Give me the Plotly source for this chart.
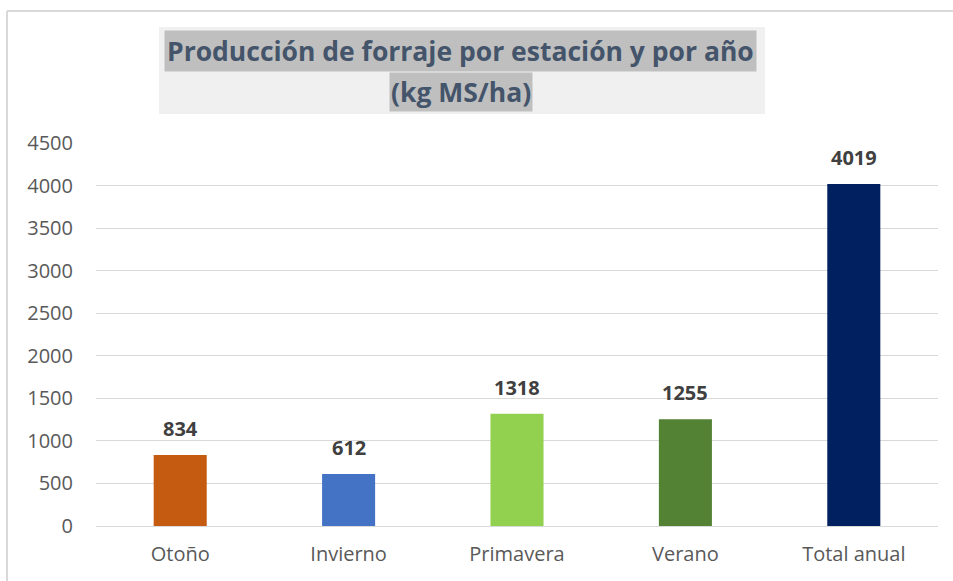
import plotly.graph_objects as go

categories = ["Otoño", "Invierno", "Primavera", "Verano", "Total anual"]
values = [834, 612, 1318, 1255, 4019]
colors = ["#C55A11", "#4472C4", "#92D050", "#548235", "#002060"]
tick_vals = [0, 500, 1000, 1500, 2000, 2500, 3000, 3500, 4000, 4500]
title_line1 = "Producción de forraje por estación y por año"
title_line2 = "(kg MS/ha)"

W, H = 953, 581
L, R, T, B = 96, 15, 143, 55
pw, ph = W - L - R, H - T - B

def px(x):
    return (x - L) / pw

def py(y):
    return (H - B - y) / ph

fig = go.Figure()
fig.add_trace(go.Bar(
    x=categories, y=values, marker=dict(color=colors, line=dict(width=0)),
    width=0.315, hoverinfo="skip",
))

for c, v in zip(categories, values):
    fig.add_annotation(x=c, y=v, text=f"<b>{v}</b>", showarrow=False,
                       yanchor="bottom", yshift=11,
                       font=dict(family="Open Sans", size=20, color="#404040"))

shapes = [
    dict(type="rect", xref="paper", yref="paper", x0=px(159), x1=px(765), y0=py(114), y1=py(27),
         fillcolor="#F0F0F0", line=dict(width=0), layer="below"),
    dict(type="line", xref="paper", yref="paper", x0=px(7), x1=px(953), y0=py(11), y1=py(11),
         line=dict(color="#D9D9D9", width=2)),
    dict(type="line", xref="paper", yref="paper", x0=px(7), x1=px(7), y0=py(11), y1=py(581),
         line=dict(color="#D9D9D9", width=2)),
]

fig.add_annotation(xref="paper", yref="paper", x=px(460.5), y=py(51.5), text=f"<b>{title_line1}</b>",
                   showarrow=False, xanchor="center", yanchor="middle",
                   bgcolor="#BFBFBF", borderpad=2,
                   font=dict(family="Open Sans", size=26.5, color="#44546A"))
fig.add_annotation(xref="paper", yref="paper", x=px(460.5), y=py(91.5), text=f"<b>{title_line2}</b>",
                   showarrow=False, xanchor="center", yanchor="middle",
                   bgcolor="#BFBFBF", borderpad=1,
                   font=dict(family="Open Sans", size=26.5, color="#44546A"))

fig.update_layout(
    width=W, height=H,
    margin=dict(l=L, r=R, t=T, b=B),
    paper_bgcolor="white", plot_bgcolor="white",
    showlegend=False,
    shapes=shapes,
    xaxis=dict(showgrid=False, showline=False, ticks="", ticklabelstandoff=14,
               tickfont=dict(family="Open Sans", size=20, color="#595959")),
    yaxis=dict(range=[0, 4500], tickvals=tick_vals, showgrid=True, gridcolor="#D9D9D9",
               gridwidth=1, zeroline=True, zerolinecolor="#D9D9D9", zerolinewidth=1,
               showline=False, ticks="", ticklabelstandoff=22,
               tickfont=dict(family="Open Sans", size=20, color="#595959")),
)

fig.write_html("out.html", config={"displayModeBar": False},
               post_script="document.body.style.margin='0';document.body.style.overflow='hidden';")
